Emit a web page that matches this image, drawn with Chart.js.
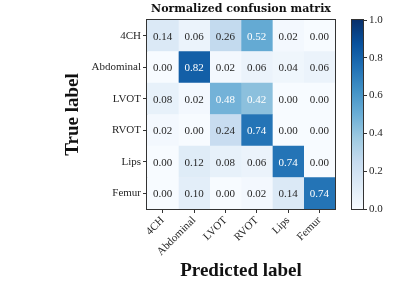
<!DOCTYPE html>
<html>
<head>
<meta charset="utf-8">
<script src="https://cdn.jsdelivr.net/npm/chart.js@4"></script>
<style>
  body { margin: 0; background: #fff; }
  #wrap { position: relative; width: 407px; height: 299px; }
  #wrap canvas { position: absolute; left: 0; top: 0; }
</style>
</head>
<body>
<div id="wrap">
  <canvas id="cm" width="407" height="299"></canvas>
  <canvas id="cbar" width="407" height="299"></canvas>
</div>
<script>
// class names
const trueLabels = ['4CH', 'Abdominal', 'LVOT', 'RVOT', 'Lips', 'Femur'];
const predLabels = ['4CH', 'Abdominal', 'LVOT', 'RVOT', 'Lips', 'Femur'];

// one row per true label (normalized)
const row4CH = [0.14, 0.06, 0.26, 0.52, 0.02, 0.00];
const rowAbdominal = [0.00, 0.82, 0.02, 0.06, 0.04, 0.06];
const rowLVOT = [0.08, 0.02, 0.48, 0.42, 0.00, 0.00];
const rowRVOT = [0.02, 0.00, 0.24, 0.74, 0.00, 0.00];
const rowLips = [0.00, 0.12, 0.08, 0.06, 0.74, 0.00];
const rowFemur = [0.00, 0.10, 0.00, 0.02, 0.14, 0.74];

const cbTicks = [0, 0.2, 0.4, 0.6, 0.8, 1.0];

const matrix = [row4CH, rowAbdominal, rowLVOT, rowRVOT, rowLips, rowFemur];

// matplotlib "Blues"
const bluesStops = [
    [247, 251, 255], [222, 235, 247], [198, 219, 239], [158, 202, 225],
    [107, 174, 214], [66, 146, 198], [33, 113, 181], [8, 81, 156], [8, 48, 107]
];

function blues(v) {
    const t = Math.max(0, Math.min(1, v)) * (bluesStops.length - 1);
    const i = Math.min(Math.floor(t), bluesStops.length - 2);
    const f = t - i;
    const a = bluesStops[i], b = bluesStops[i + 1];
    const c = a.map((x, k) => Math.round(x + (b[k] - x) * f));
    return `rgb(${c[0]}, ${c[1]}, ${c[2]})`;
}

const maxVal = Math.max(...matrix.flat());
const thresh = maxVal / 2;

const tickFont = { family: 'Liberation Serif', size: 11 };
const axisTitleFont = { family: 'Liberation Serif', size: 19, weight: 'bold' };
const edgeColor = '#333333';

// one dataset per predicted column, floating bars span one cell
const datasets = predLabels.map((p, j) => ({
    label: p,
    data: trueLabels.map(() => [j - 0.5, j + 0.5]),
    backgroundColor: matrix.map(row => blues(row[j])),
    borderWidth: 0,
    barPercentage: 1,
    categoryPercentage: 1,
    grouped: false
}));

const cellText = {
    id: 'cellText',
    afterDatasetsDraw(chart) {
        const ctx = chart.ctx;
        ctx.save();
        ctx.font = `${tickFont.size}px "${tickFont.family}"`;
        ctx.textAlign = 'center';
        ctx.textBaseline = 'middle';
        chart.data.datasets.forEach((ds, j) => {
            chart.getDatasetMeta(j).data.forEach((bar, i) => {
                const v = matrix[i][j];
                const pt = bar.getCenterPoint();
                ctx.fillStyle = v > thresh ? '#ffffff' : '#262626';
                ctx.fillText(v.toFixed(2), pt.x, pt.y + 1);
            });
        });
        const a = chart.chartArea;
        ctx.strokeStyle = edgeColor;
        ctx.lineWidth = 1;
        ctx.strokeRect(Math.round(a.left) - 0.5, Math.round(a.top) - 0.5,
            Math.round(a.right - a.left) + 1, Math.round(a.bottom - a.top) + 1);
        ctx.restore();
    }
};

var cmChart = new Chart(document.getElementById('cm'), {
    type: 'bar',
    data: { labels: trueLabels, datasets: datasets },
    options: {
        indexAxis: 'y',
        responsive: false,
        animation: false,
        events: [],
        layout: { padding: { left: 62, right: 72, top: 0, bottom: 17 } },
        plugins: { legend: { display: false }, tooltip: { enabled: false } },
        scales: {
            x: {
                type: 'linear',
                min: -0.5,
                max: 5.5,
                afterBuildTicks: (scale) => { scale.ticks = predLabels.map((p, i) => ({ value: i })); },
                afterFit: (scale) => { scale.height = 73; },
                ticks: {
                    callback: (v) => predLabels[v],
                    minRotation: 45,
                    maxRotation: 45,
                    autoSkip: false,
                    padding: 1,
                    color: '#262626',
                    font: tickFont
                },
                grid: { drawOnChartArea: false, tickLength: 4, color: edgeColor },
                border: { color: edgeColor },
                title: {
                    display: true,
                    text: 'Predicted label',
                    color: '#111',
                    font: axisTitleFont,
                    padding: { top: 0, bottom: 0 }
                }
            },
            top: {
                type: 'linear',
                position: 'top',
                min: -0.5,
                max: 5.5,
                afterFit: (scale) => { scale.height = 20; },
                ticks: { display: false },
                grid: { display: false },
                border: { display: false },
                title: {
                    display: true,
                    text: 'Normalized confusion matrix',
                    color: '#111',
                    font: { family: 'DejaVu Serif', size: 11, weight: 'bold' },
                    padding: { top: 3, bottom: 0 }
                }
            },
            y: {
                type: 'category',
                afterFit: (scale) => { scale.width = 85; },
                ticks: { color: '#262626', font: tickFont, padding: 2 },
                grid: { offset: false, drawOnChartArea: false, tickLength: 4, color: edgeColor },
                border: { color: edgeColor },
                title: {
                    display: true,
                    text: 'True label',
                    color: '#111',
                    font: axisTitleFont,
                    padding: { top: 0, bottom: 0 }
                }
            }
        }
    },
    plugins: [cellText]
});

// colorbar as its own small chart
function cbGradient(context) {
    const area = context.chart.chartArea;
    if (!area) return blues(0.5);
    const g = context.chart.ctx.createLinearGradient(0, area.bottom, 0, area.top);
    bluesStops.forEach((s, k) => g.addColorStop(k / (bluesStops.length - 1), `rgb(${s[0]}, ${s[1]}, ${s[2]})`));
    return g;
}

const cbFrame = {
    id: 'cbFrame',
    afterDatasetsDraw(chart) {
        const a = chart.chartArea;
        const ctx = chart.ctx;
        ctx.save();
        ctx.strokeStyle = edgeColor;
        ctx.lineWidth = 1;
        ctx.strokeRect(Math.round(a.left) - 0.5, Math.round(a.top) - 0.5,
            Math.round(a.right - a.left) + 1, Math.round(a.bottom - a.top) + 1);
        ctx.restore();
    }
};

var cbChart = new Chart(document.getElementById('cbar'), {
    type: 'bar',
    data: {
        labels: ['cb'],
        datasets: [{
            data: [[cbTicks[0], cbTicks[cbTicks.length - 1]]],
            backgroundColor: cbGradient,
            borderWidth: 0,
            barPercentage: 1,
            categoryPercentage: 1
        }]
    },
    options: {
        responsive: false,
        animation: false,
        events: [],
        layout: { padding: { left: 352, right: 4, top: 20, bottom: 90 } },
        plugins: { legend: { display: false }, tooltip: { enabled: false } },
        scales: {
            x: { display: false },
            y: {
                position: 'right',
                min: 0,
                max: 1,
                afterFit: (scale) => { scale.width = 40; },
                afterBuildTicks: (scale) => { scale.ticks = cbTicks.map(v => ({ value: v })); },
                ticks: {
                    callback: (v) => v.toFixed(1),
                    color: '#262626',
                    font: tickFont,
                    padding: 2
                },
                grid: { drawOnChartArea: false, tickLength: 4, color: edgeColor },
                border: { color: edgeColor }
            }
        }
    },
    plugins: [cbFrame]
});
</script>
</body>
</html>
